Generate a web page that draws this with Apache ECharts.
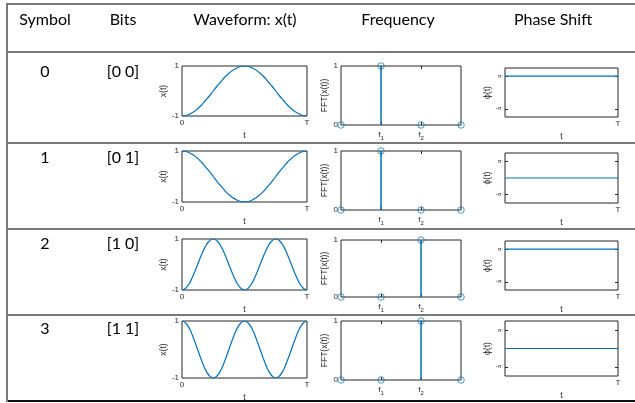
<!DOCTYPE html>
<html><head><meta charset="utf-8">
<script src="https://cdn.jsdelivr.net/npm/echarts@6/dist/echarts.min.js"></script>
<style>html,body{margin:0;padding:0;background:#fff}#c{width:635px;height:403px}</style>
</head><body><div id="c"></div>
<script>
// ---- data ----
const headers = ['Symbol', 'Bits', 'Waveform: x(t)', 'Frequency', 'Phase Shift'];
const symbols = ['0', '1', '2', '3'];
const bits = ['[0 0]', '[0 1]', '[1 0]', '[1 1]'];
const timeTickLabels = ['0', 'T'];
const wave0 = [-1,-0.98,-0.92,-0.83,-0.71,-0.56,-0.38,-0.2,0,0.2,0.38,0.56,0.71,0.83,0.92,0.98,1,0.98,0.92,0.83,0.71,0.56,0.38,0.2,0,-0.2,-0.38,-0.56,-0.71,-0.83,-0.92,-0.98,-1];
const wave1 = [1,0.98,0.92,0.83,0.71,0.56,0.38,0.2,0,-0.2,-0.38,-0.56,-0.71,-0.83,-0.92,-0.98,-1,-0.98,-0.92,-0.83,-0.71,-0.56,-0.38,-0.2,0,0.2,0.38,0.56,0.71,0.83,0.92,0.98,1];
const wave2 = [-1,-0.92,-0.71,-0.38,0,0.38,0.71,0.92,1,0.92,0.71,0.38,0,-0.38,-0.71,-0.92,-1,-0.92,-0.71,-0.38,0,0.38,0.71,0.92,1,0.92,0.71,0.38,0,-0.38,-0.71,-0.92,-1];
const wave3 = [1,0.92,0.71,0.38,0,-0.38,-0.71,-0.92,-1,-0.92,-0.71,-0.38,0,0.38,0.71,0.92,1,0.92,0.71,0.38,0,-0.38,-0.71,-0.92,-1,-0.92,-0.71,-0.38,0,0.38,0.71,0.92,1];
const waves = [wave0, wave1, wave2, wave3];
const freqBins = [0, 1, 2, 3];
const freqTickLabels = ['f{s|1}', 'f{s|2}'];
const fft0 = [0, 1, 0, 0];
const fft1 = [0, 1, 0, 0];
const fft2 = [0, 0, 1, 0];
const fft3 = [0, 0, 1, 0];
const ffts = [fft0, fft1, fft2, fft3];
const phases = [Math.PI, 0, Math.PI, 0];
const phaseTickLabels = ['-π', 'π'];

// ---- layout ----
const rowGeo = [
  {wave:[66,116], freq:[66,125], phase:[68,117], text:72},
  {wave:[151,202], freq:[151,210], phase:[153,203], text:158},
  {wave:[239,290], freq:[240,297], phase:[241,290], text:244},
  {wave:[321,378], freq:[321,380], phase:[321,376], text:329}
];
const BLUE = '#0072BD', INK = '#262626', PF = 'Liberation Sans';
const grids = [], xAxes = [], yAxes = [], series = [];
function addGrid(left, width, tb) {
  grids.push({left, top: tb[0], width, height: tb[1] - tb[0], show: true,
    borderColor: INK, borderWidth: 1, backgroundColor: '#fff'});
  return grids.length - 1;
}
const lab = (extra) => Object.assign({fontSize: 8, color: INK, fontFamily: PF, margin: 3}, extra);
const nameStyle = {fontSize: 8.5, color: INK, fontFamily: PF};

rowGeo.forEach((g, r) => {
  // waveform
  let gi = addGrid(182, 125, g.wave);
  xAxes.push({gridIndex: gi, type: 'value', min: 0, max: wave0.length - 1,
    axisLine: {show: false}, axisTick: {show: false}, splitLine: {show: false},
    axisLabel: lab({customValues: [0, wave0.length - 1], formatter: v => v === 0 ? timeTickLabels[0] : timeTickLabels[1]}),
    name: 't', nameLocation: 'middle', nameGap: 15, nameTextStyle: nameStyle});
  yAxes.push({gridIndex: gi, type: 'value', min: -1, max: 1,
    axisLine: {show: false}, axisTick: {show: false}, splitLine: {show: false},
    axisLabel: lab({customValues: [-1, 1], formatter: v => String(v)}),
    name: 'x(t)', nameLocation: 'middle', nameGap: 10, nameTextStyle: nameStyle});
  series.push({type: 'line', xAxisIndex: xAxes.length - 1, yAxisIndex: yAxes.length - 1,
    data: waves[r].map((v, i) => [i, v]), smooth: true, showSymbol: false,
    lineStyle: {color: BLUE, width: 1.2}, silent: true});

  // frequency
  gi = addGrid(341, 120, g.freq);
  xAxes.push({gridIndex: gi, type: 'value', min: 0, max: 3, position: 'bottom',
    axisLine: {show: false}, splitLine: {show: false},
    axisTick: {show: true, inside: true, length: 3, customValues: [1, 2], lineStyle: {color: INK}},
    axisLabel: lab({customValues: [1, 2], formatter: v => freqTickLabels[v - 1],
      rich: {s: {fontSize: 6, fontFamily: PF, color: INK, padding: [7, 0, 0, 0]}}})});
  const fx = xAxes.length - 1;
  xAxes.push({gridIndex: gi, type: 'value', min: 0, max: 3, position: 'top',
    axisLine: {show: false}, splitLine: {show: false}, axisLabel: {show: false},
    axisTick: {show: true, inside: true, length: 3, customValues: [1, 2], lineStyle: {color: INK}}});
  yAxes.push({gridIndex: gi, type: 'value', min: 0, max: 1,
    axisLine: {show: false}, axisTick: {show: false}, splitLine: {show: false},
    axisLabel: lab({customValues: [0, 1], formatter: v => String(v)}),
    name: 'FFT(x(t))', nameLocation: 'middle', nameGap: 10, nameTextStyle: nameStyle});
  const fy = yAxes.length - 1;
  series.push({type: 'bar', xAxisIndex: fx, yAxisIndex: fy, barWidth: 1.5,
    data: ffts[r].map((v, i) => [freqBins[i], v]), itemStyle: {color: BLUE}, silent: true});
  series.push({type: 'scatter', xAxisIndex: fx, yAxisIndex: fy, clip: false,
    symbol: 'circle', symbolSize: 6.5, z: 5,
    data: ffts[r].map((v, i) => [freqBins[i], v]),
    itemStyle: {color: 'rgba(0,0,0,0)', borderColor: BLUE, borderWidth: 0.9}, silent: true});

  // phase
  gi = addGrid(505, 113, g.phase);
  xAxes.push({gridIndex: gi, type: 'value', min: 0, max: 1,
    axisLine: {show: false}, axisTick: {show: false}, splitLine: {show: false},
    axisLabel: lab({customValues: [1], formatter: () => timeTickLabels[1]}),
    name: 't', nameLocation: 'middle', nameGap: 15, nameTextStyle: nameStyle});
  const px = xAxes.length - 1;
  yAxes.push({gridIndex: gi, type: 'value', min: -1.5 * Math.PI, max: 1.5 * Math.PI, position: 'left',
    axisLine: {show: false}, splitLine: {show: false},
    axisTick: {show: true, inside: true, length: 3, customValues: [-Math.PI, Math.PI], lineStyle: {color: INK}},
    axisLabel: lab({fontSize: 6, customValues: [-Math.PI, Math.PI], formatter: v => v < 0 ? phaseTickLabels[0] : phaseTickLabels[1]}),
    name: 'ϕ(t)', nameLocation: 'middle', nameGap: 9, nameTextStyle: nameStyle});
  const py = yAxes.length - 1;
  yAxes.push({gridIndex: gi, type: 'value', min: -1.5 * Math.PI, max: 1.5 * Math.PI, position: 'right',
    axisLine: {show: false}, splitLine: {show: false}, axisLabel: {show: false},
    axisTick: {show: true, inside: true, length: 3, customValues: [-Math.PI, Math.PI], lineStyle: {color: INK}}});
  series.push({type: 'line', xAxisIndex: px, yAxisIndex: py, showSymbol: false,
    data: [[0, phases[r]], [1, phases[r]]], lineStyle: {color: BLUE, width: 1.2}, silent: true});
});

// ---- table graphics ----
const TF = 'Lato';
const colX = [45, 123, 245, 398, 553];
const graphic = [];
const hLines = [52, 143, 229, 315];
graphic.push({type: 'line', shape: {x1: 7, y1: 4, x2: 635, y2: 4}, style: {stroke: '#7a7a7a', lineWidth: 2}});
hLines.forEach(y => graphic.push({type: 'line', shape: {x1: 7, y1: y, x2: 635, y2: y}, style: {stroke: '#7a7a7a', lineWidth: 2}}));
graphic.push({type: 'line', shape: {x1: 7, y1: 401, x2: 635, y2: 401}, style: {stroke: '#111', lineWidth: 2}});
graphic.push({type: 'line', shape: {x1: 7, y1: 3, x2: 7, y2: 402}, style: {stroke: '#7a7a7a', lineWidth: 2}});
const txt = (t, x, y) => ({type: 'text', x, y, style: {text: t, fontSize: 16, fontFamily: TF, fill: '#000',
  textAlign: 'center', textVerticalAlign: 'middle', align: 'center', verticalAlign: 'middle'}});
headers.forEach((h, i) => graphic.push(txt(h, colX[i], 20)));
rowGeo.forEach((g, r) => {
  graphic.push(txt(symbols[r], colX[0], g.text));
  graphic.push(txt(bits[r], colX[1], g.text));
});

const chart = echarts.init(document.getElementById('c'), null, {renderer: 'canvas'});
chart.setOption({animation: false, backgroundColor: '#fff', grid: grids, xAxis: xAxes, yAxis: yAxes, series, graphic});
</script></body></html>
